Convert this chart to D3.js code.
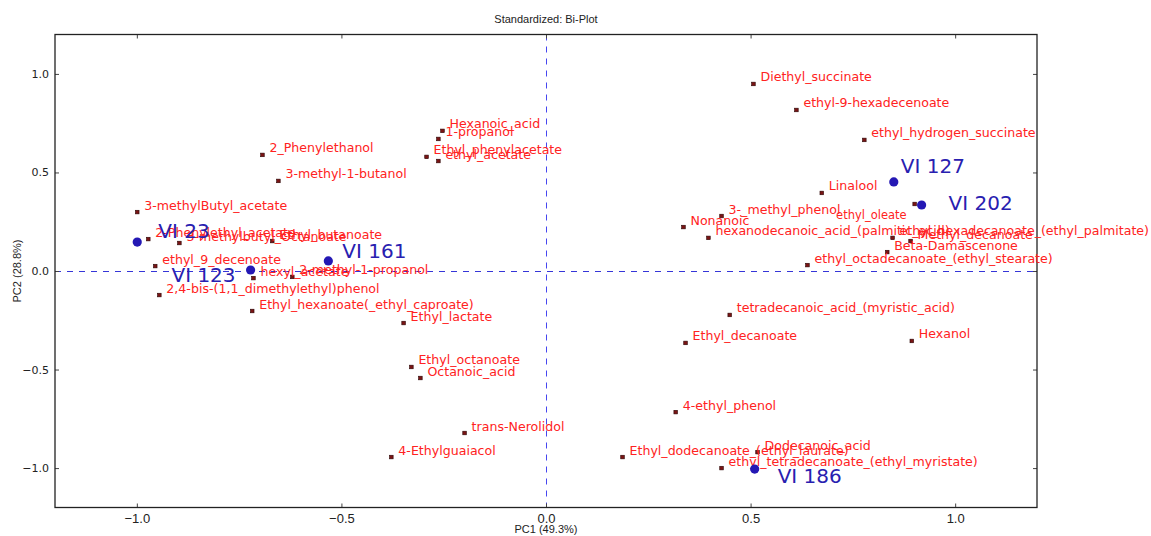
<!DOCTYPE html>
<html>
<head>
<meta charset="utf-8">
<script src="https://cdn.jsdelivr.net/npm/d3@7"></script>
<style>
  html, body { margin: 0; padding: 0; background: #fff; }
  svg { display: block; }
</style>
</head>
<body>
<svg id="chart" width="1151" height="536"></svg>
<script>
// Variable loadings (PC1, PC2)
const variableNames = [
  "Diethyl_succinate", "ethyl-9-hexadecenoate", "ethyl_hydrogen_succinate", "Linalool",
  "3-_methyl_phenol", "ethyl_oleate", "Nonanoic", "hexanodecanoic_acid_(palmitic_acid)",
  "ethyl_hexadecanoate_(ethyl_palmitate)", "Methyl_decanoate", "Beta-Damascenone",
  "ethyl_octadecanoate_(ethyl_stearate)", "tetradecanoic_acid_(myristic_acid)", "Ethyl_decanoate",
  "Hexanol", "4-ethyl_phenol", "Ethyl_dodecanoate_(ethyl_laurate)", "Dodecanoic_acid",
  "ethyl_tetradecanoate_(ethyl_myristate)", "3-methylButyl_acetate", "2-Phenylethyl_acetate",
  "3-methylbutyl_Octanoate", "Ethyl_butanoate", "ethyl_9_decenoate", "hexyl_acetate",
  "2-methyl-1-propanol", "2,4-bis-(1,1_dimethylethyl)phenol", "Ethyl_hexanoate(_ethyl_caproate)",
  "Ethyl_lactate", "Ethyl_octanoate", "Octanoic_acid", "trans-Nerolidol", "4-Ethylguaiacol",
  "2_Phenylethanol", "3-methyl-1-butanol", "Hexanoic_acid", "1-propanol",
  "Ethyl_phenylacetate", "ethyl_acetate"
];
const variablePC1 = [
  0.507, 0.612, 0.778, 0.674,
  0.429, 0.901, 0.336, 0.397,
  0.847, 0.891, 0.834,
  0.639, 0.449, 0.341,
  0.894, 0.317, 0.187, 0.517,
  0.429, -0.999, -0.972,
  -0.896, -0.669, -0.955, -0.715,
  -0.620, -0.945, -0.718,
  -0.348, -0.329, -0.307, -0.199, -0.378,
  -0.693, -0.654, -0.253, -0.263,
  -0.292, -0.263
];
const variablePC2 = [
  0.949, 0.817, 0.665, 0.396,
  0.279, 0.340, 0.223, 0.168,
  0.168, 0.152, 0.096,
  0.030, -0.223, -0.365,
  -0.355, -0.716, -0.944, -0.919,
  -1.000, 0.299, 0.162,
  0.142, 0.152, 0.025, -0.036,
  -0.030, -0.122, -0.203,
  -0.264, -0.487, -0.543, -0.822, -0.944,
  0.589, 0.457, 0.711, 0.670,
  0.579, 0.558
];

// Sample scores (PC1, PC2)
const sampleNames = ["VI 23", "VI 123", "VI 161", "VI 127", "VI 202", "VI 186"];
const samplePC1 = [-0.999, -0.722, -0.532, 0.850, 0.918, 0.510];
const samplePC2 = [0.147, 0.005, 0.051, 0.452, 0.335, -1.005];

const xTicks = [-1.0, -0.5, 0.0, 0.5, 1.0];
const yTicks = [-1.0, -0.5, 0.0, 0.5, 1.0];

const chartTitle = "Standardized: Bi-Plot";
const xTitle = "PC1 (49.3%)";
const yTitle = "PC2 (28.8%)";

// ---- layout ----
const plot = { left: 55, right: 1037, top: 34.5, bottom: 507.5 };
const narrowFont = "'Liberation Sans Narrow', 'Liberation Sans', Arial, sans-serif";
const mainFont = "'DejaVu Sans', Verdana, sans-serif";

const x = d3.scaleLinear().domain([-1.2, 1.2]).range([plot.left, plot.right]);
const y = d3.scaleLinear().domain([-1.2, 1.2]).range([plot.bottom, plot.top]);

const svg = d3.select("#chart");

// label placement for sample labels: [dx, dy, anchor]
const sampleLabelPlacement = {
  "VI 23": [21, -4, "start"],
  "VI 123": [-15, 12, "end"],
  "VI 161": [14, -3, "start"],
  "VI 127": [7, -9, "start"],
  "VI 202": [27, 5, "start"],
  "VI 186": [23, 14, "start"]
};
// labels that sit off the usual upper-right spot
const variableLabelPlacement = {
  "ethyl_oleate": [-8, 15, "end"]
};

// zero reference lines (half-pixel offset keeps the dashes crisp)
svg.append("line")
  .attr("x1", plot.left).attr("x2", plot.right)
  .attr("y1", Math.round(y(0)) + 0.5).attr("y2", Math.round(y(0)) + 0.5)
  .attr("stroke", "#3535d8").attr("stroke-width", 1)
  .attr("stroke-dasharray", "6,6");
svg.append("line")
  .attr("x1", Math.round(x(0)) + 0.5).attr("x2", Math.round(x(0)) + 0.5)
  .attr("y1", plot.top).attr("y2", plot.bottom)
  .attr("stroke", "#4646f0").attr("stroke-width", 1)
  .attr("stroke-dasharray", "6,6");

// axes with inward ticks on all four sides
const axisG = svg.append("g");
axisG.append("g")
  .attr("transform", `translate(0,${plot.bottom})`)
  .call(d3.axisBottom(x).tickValues(xTicks).tickSize(-4).tickPadding(6).tickFormat(d3.format(".1f")))
  .call(g => g.selectAll("text").attr("font-family", narrowFont).attr("font-size", 13).attr("fill", "#222"));
axisG.append("g")
  .attr("transform", `translate(0,${plot.top})`)
  .call(d3.axisTop(x).tickValues(xTicks).tickSize(-4).tickFormat(""));
axisG.append("g")
  .attr("transform", `translate(${plot.left},0)`)
  .call(d3.axisLeft(y).tickValues(yTicks).tickSize(-4).tickPadding(6).tickFormat(d3.format(".1f")))
  .call(g => g.selectAll("text").attr("font-family", mainFont).attr("font-size", 11).attr("fill", "#222"));
axisG.append("g")
  .attr("transform", `translate(${plot.right},0)`)
  .call(d3.axisRight(y).tickValues(yTicks).tickSize(-4).tickFormat(""));
axisG.selectAll(".domain").remove();
axisG.selectAll(".tick line").attr("stroke", "#444");

// frame
svg.append("rect")
  .attr("x", plot.left).attr("y", plot.top)
  .attr("width", plot.right - plot.left).attr("height", plot.bottom - plot.top)
  .attr("fill", "none").attr("stroke", "#222").attr("stroke-width", 1.3);

// variables
const variables = variableNames.map((name, i) => ({ name, pc1: variablePC1[i], pc2: variablePC2[i] }));
const samples = sampleNames.map((name, i) => ({ name, pc1: samplePC1[i], pc2: samplePC2[i] }));

svg.append("g").selectAll("rect")
  .data(variables).join("rect")
  .attr("x", d => x(d.pc1) - 1.8).attr("y", d => y(d.pc2) - 1.8)
  .attr("width", 3.6).attr("height", 3.6)
  .attr("fill", "#7a1414").attr("stroke", "#2a0505").attr("stroke-width", 0.6);

svg.append("g").selectAll("text")
  .data(variables).join("text")
  .attr("x", d => x(d.pc1) + (variableLabelPlacement[d.name] ? variableLabelPlacement[d.name][0] : 7))
  .attr("y", d => y(d.pc2) + (variableLabelPlacement[d.name] ? variableLabelPlacement[d.name][1] : -2.5))
  .attr("text-anchor", d => variableLabelPlacement[d.name] ? variableLabelPlacement[d.name][2] : "start")
  .attr("font-family", mainFont)
  .attr("font-size", d => variableLabelPlacement[d.name] ? 11.5 : 12.6)
  .attr("fill", "#ff2222")
  .text(d => d.name);

// samples
svg.append("g").selectAll("circle")
  .data(samples).join("circle")
  .attr("cx", d => x(d.pc1)).attr("cy", d => y(d.pc2))
  .attr("r", 4.6).attr("fill", "#2418b4");

svg.append("g").selectAll("text")
  .data(samples).join("text")
  .attr("x", d => x(d.pc1) + sampleLabelPlacement[d.name][0])
  .attr("y", d => y(d.pc2) + sampleLabelPlacement[d.name][1])
  .attr("text-anchor", d => sampleLabelPlacement[d.name][2])
  .attr("font-family", mainFont).attr("font-size", 20)
  .attr("fill", "#2820b0")
  .text(d => d.name);

// titles
svg.append("text")
  .attr("x", (plot.left + plot.right) / 2).attr("y", 23)
  .attr("text-anchor", "middle")
  .attr("font-family", narrowFont).attr("font-size", 11).attr("fill", "#222")
  .text(chartTitle);
svg.append("text")
  .attr("x", (plot.left + plot.right) / 2).attr("y", 533)
  .attr("text-anchor", "middle")
  .attr("font-family", narrowFont).attr("font-size", 11).attr("fill", "#222")
  .text(xTitle);
svg.append("text")
  .attr("transform", `translate(21,${(plot.top + plot.bottom) / 2}) rotate(-90)`)
  .attr("text-anchor", "middle")
  .attr("font-family", narrowFont).attr("font-size", 11).attr("fill", "#222")
  .text(yTitle);
</script>
</body>
</html>
